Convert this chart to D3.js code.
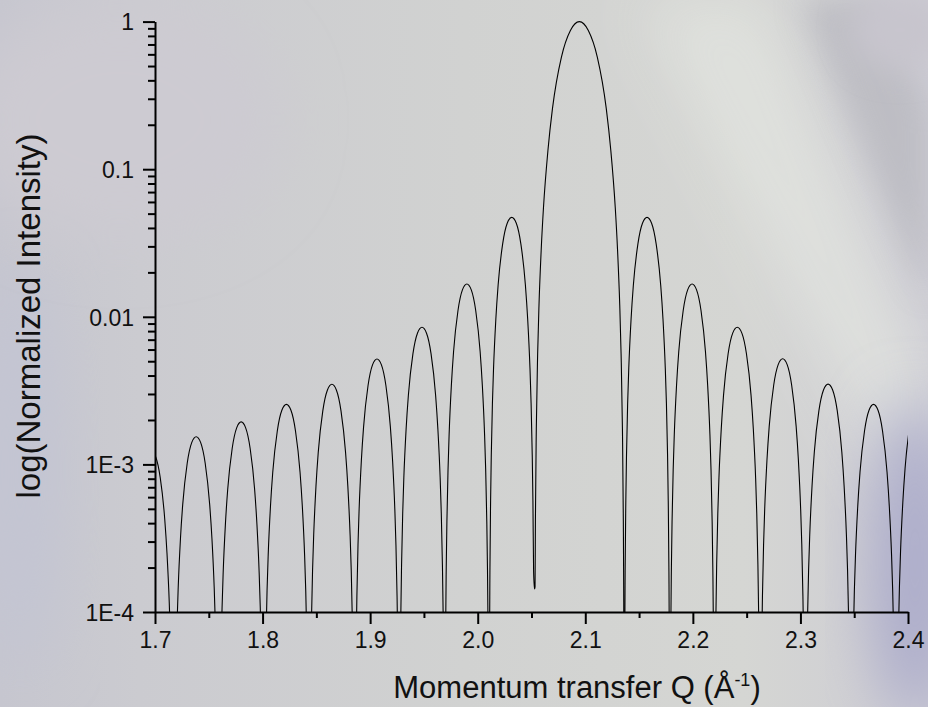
<!DOCTYPE html>
<html>
<head>
<meta charset="utf-8">
<script src="https://cdn.jsdelivr.net/npm/d3@7"></script>
<style>
  html, body { margin: 0; padding: 0; background: #cfd0d2; }
  svg { display: block; }
  text { font-family: "Liberation Sans", Arial, sans-serif; fill: #111; }
</style>
</head>
<body>
<svg id="chart" width="928" height="707"></svg>
<script>
// zeros (minima) of the interference pattern, Q in 1/Å
const zeroQ = [1.6756, 1.7174, 1.7592, 1.8010, 1.8433, 1.8856, 1.9271, 1.9693, 2.0105,
               2.0528, 2.1362, 2.1786, 2.2200, 2.2626, 2.3044, 2.3470, 2.3889, 2.4307];
// deepest value reached at each zero (most fall off the bottom of the axis)
const zeroMin = [1e-6, 1e-6, 1e-6, 1e-6, 1e-6, 1e-6, 1e-6, 1e-6, 1e-6,
                 1.43e-4, 1e-6, 1e-6, 1e-6, 1e-6, 1e-6, 1e-6, 1e-6, 1e-6];
// height of each lobe between two zeros
const lobePeak = [1.23e-3, 1.54e-3, 1.94e-3, 2.55e-3, 3.49e-3, 5.18e-3, 8.49e-3, 0.0167, 0.0472,
                  1.0, 0.0472, 0.0167, 0.0085, 0.0052, 0.0035, 0.00255, 0.0027];
const centralLobe = 9;
// lobe shape: [fraction of lobe width from the zero, decades below the lobe top]
const sideProfile = [[0.003, -4.05], [0.006, -3.45], [0.01, -3.01], [0.02, -2.40], [0.035, -1.92],
                     [0.05, -1.61], [0.075, -1.26], [0.1, -1.02], [0.15, -0.69], [0.2, -0.46],
                     [0.3, -0.18], [0.4, -0.04], [0.5, 0]];
const centralProfile = [[0.003, -4.44], [0.006, -3.83], [0.01, -3.38], [0.02, -2.76], [0.035, -2.25],
                        [0.05, -1.92], [0.075, -1.54], [0.1, -1.26], [0.15, -0.87], [0.2, -0.59],
                        [0.3, -0.24], [0.4, -0.06], [0.5, 0]];

const xMajor = [1.7, 1.8, 1.9, 2.0, 2.1, 2.2, 2.3, 2.4];
const xMinor = [1.75, 1.85, 1.95, 2.05, 2.15, 2.25, 2.35];
const yMajor = [1, 0.1, 0.01, 1e-3, 1e-4];
const yTickLabels = ["1", "0.1", "0.01", "1E-3", "1E-4"];
const yMinor = [];
[1e-4, 1e-3, 1e-2, 1e-1].forEach(dec => d3.range(2, 10).forEach(k => yMinor.push(k * dec)));

const svg = d3.select("#chart");
const W = 928, H = 707;

// ---- background (blurred photo look) ----
const defs = svg.append("defs");
const bg = defs.append("linearGradient").attr("id", "bgGrad").attr("x1", 0).attr("x2", 1).attr("y1", 0).attr("y2", 0);
bg.append("stop").attr("offset", 0).attr("stop-color", "#c6c6cf");
bg.append("stop").attr("offset", 0.15).attr("stop-color", "#cbcbd0");
bg.append("stop").attr("offset", 0.5).attr("stop-color", "#d1d2d1");
bg.append("stop").attr("offset", 0.8).attr("stop-color", "#d5d6d3");
bg.append("stop").attr("offset", 1).attr("stop-color", "#cdccd4");
defs.append("filter").attr("id", "blur30").attr("x", "-50%").attr("y", "-50%").attr("width", "200%").attr("height", "200%")
  .append("feGaussianBlur").attr("stdDeviation", 30);
defs.append("filter").attr("id", "blur15").attr("x", "-50%").attr("y", "-50%").attr("width", "200%").attr("height", "200%")
  .append("feGaussianBlur").attr("stdDeviation", 15);

svg.append("rect").attr("width", W).attr("height", H).attr("fill", "url(#bgGrad)");
const blobs = svg.append("g");
blobs.append("ellipse").attr("cx", 20).attr("cy", 470).attr("rx", 40).attr("ry", 200)
  .attr("fill", "#c3c5d3").attr("filter", "url(#blur30)");
blobs.append("ellipse").attr("cx", 120).attr("cy", 120).attr("rx", 160).attr("ry", 120)
  .attr("fill", "#cdcbd2").attr("filter", "url(#blur30)");
blobs.append("path").attr("d", "M640,0 L760,0 L928,380 L928,560 Z")
  .attr("fill", "#e1e3df").attr("opacity", 0.85).attr("filter", "url(#blur30)");
blobs.append("path").attr("d", "M800,0 L880,0 L928,110 L928,300 Z")
  .attr("fill", "#b9b9c0").attr("opacity", 0.8).attr("filter", "url(#blur15)");
blobs.append("ellipse").attr("cx", 915).attr("cy", 560).attr("rx", 45).attr("ry", 160)
  .attr("fill", "#acacca").attr("filter", "url(#blur30)");
blobs.append("ellipse").attr("cx", 900).attr("cy", 30).attr("rx", 50).attr("ry", 40)
  .attr("fill", "#c7c5cd").attr("filter", "url(#blur15)");

// ---- scales ----
const x = d3.scaleLinear().domain([1.7, 2.4]).range([155, 908]);
const y = d3.scaleLog().domain([1e-4, 1]).range([612, 21.6]);

// ---- build the curve from zeros, lobe heights and lobe shapes ----
const pts = [];
for (let i = 0; i < lobePeak.length; i++) {
  const zL = zeroQ[i], zR = zeroQ[i + 1], w = zR - zL, p = lobePeak[i];
  const prof = i === centralLobe ? centralProfile : sideProfile;
  pts.push([zL, zeroMin[i]]);
  prof.forEach(([t, dec]) => {
    const v = p * Math.pow(10, dec);
    if (v >= zeroMin[i]) pts.push([zL + t * w, v]);
  });
  prof.slice(0, -1).reverse().forEach(([t, dec]) => {
    const v = p * Math.pow(10, dec);
    if (v >= zeroMin[i + 1]) pts.push([zR - t * w, v]);
  });
}
pts.push([zeroQ[zeroQ.length - 1], zeroMin[zeroMin.length - 1]]);

defs.append("clipPath").attr("id", "plotClip")
  .append("rect").attr("x", 155).attr("y", 0).attr("width", 753).attr("height", 612);

const line = d3.line()
  .x(d => x(d[0]))
  .y(d => y(Math.max(d[1], 1e-7)))
  .curve(d3.curveMonotoneX);

svg.append("path")
  .datum(pts)
  .attr("clip-path", "url(#plotClip)")
  .attr("d", line)
  .attr("fill", "none")
  .attr("stroke", "#000")
  .attr("stroke-width", 1.1);

// ---- axes ----
svg.append("g").attr("transform", "translate(0,612)")
  .call(d3.axisBottom(x).tickValues(xMajor).tickFormat(d3.format(".1f")).tickSize(12).tickSizeOuter(0).tickPadding(8));
svg.append("g").attr("transform", "translate(0,612)")
  .call(d3.axisBottom(x).tickValues(xMinor).tickFormat("").tickSize(6).tickSizeOuter(0))
  .select(".domain").remove();

const yAxis = svg.append("g").attr("transform", "translate(155,0)")
  .call(d3.axisLeft(y).tickValues(yMajor).tickFormat((d, i) => yTickLabels[i]).tickSize(12).tickSizeOuter(0).tickPadding(9));
svg.append("g").attr("transform", "translate(155,0)")
  .call(d3.axisLeft(y).tickValues(yMinor).tickFormat("").tickSize(7).tickSizeOuter(0))
  .select(".domain").remove();

svg.selectAll(".domain, .tick line").attr("stroke", "#000").attr("stroke-width", 2);
svg.selectAll(".tick text").attr("fill", "#111").style("font-size", "23px")
  .style("font-family", "'Liberation Sans', Arial, sans-serif");
yAxis.selectAll(".tick text").attr("dy", "0.36em");

// ---- titles ----
const xt = svg.append("text")
  .attr("x", 577).attr("y", 698)
  .attr("text-anchor", "middle")
  .style("font-size", "31px");
xt.append("tspan").text("Momentum transfer Q (Å");
xt.append("tspan").attr("dy", -12).style("font-size", "18px").text("-1");
xt.append("tspan").attr("dy", 12).text(")");

svg.append("text")
  .attr("transform", "translate(40,316) rotate(-90)")
  .attr("text-anchor", "middle")
  .style("font-size", "33px")
  .text("log(Normalized Intensity)");
</script>
</body>
</html>
